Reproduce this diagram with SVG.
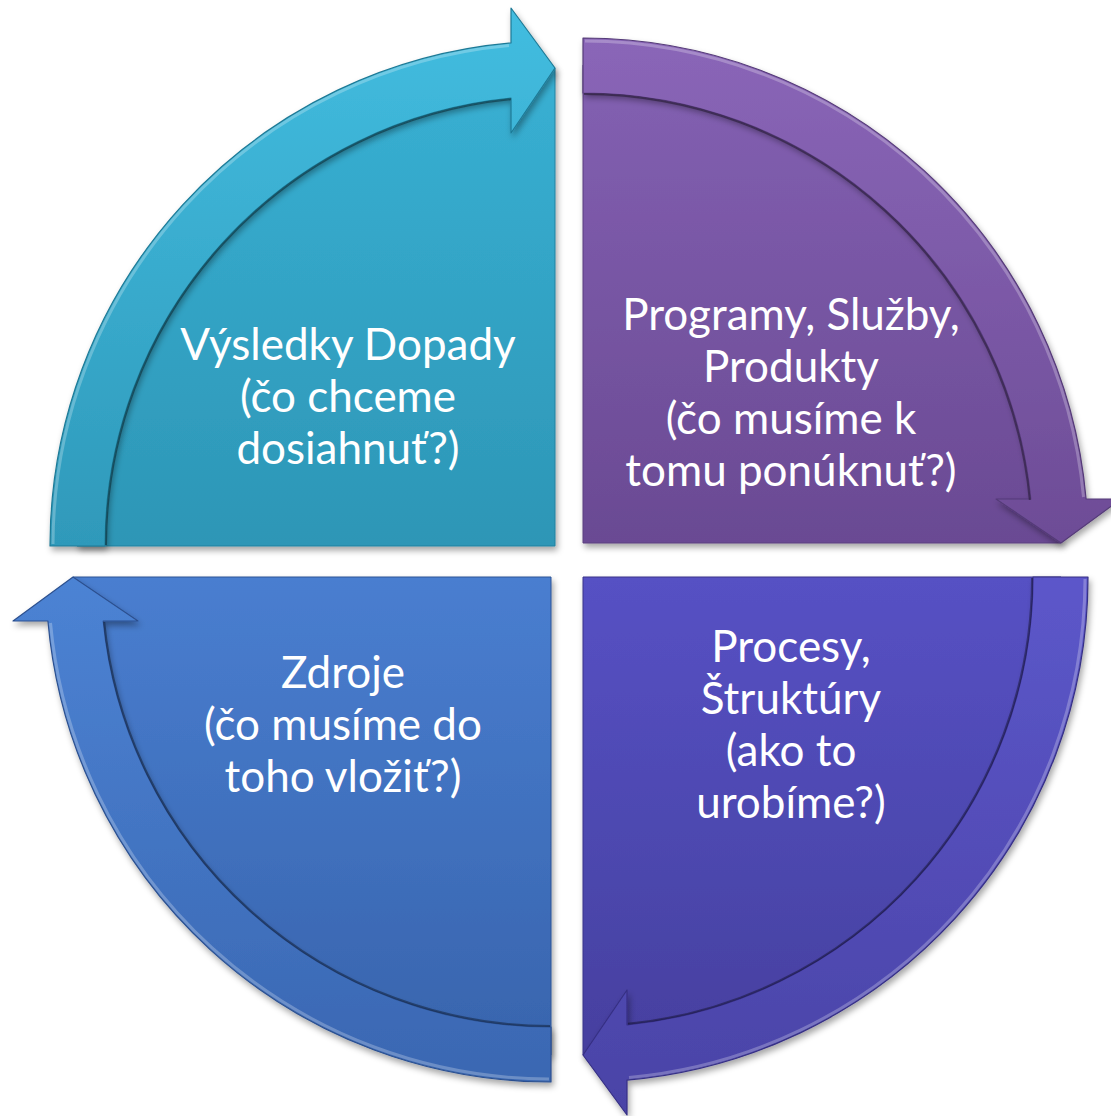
<svg xmlns="http://www.w3.org/2000/svg" width="1111" height="1116" viewBox="0 0 1111 1116">
<defs>
<filter id="sh" x="-10%" y="-10%" width="120%" height="120%">
<feDropShadow dx="2" dy="4" stdDeviation="3" flood-color="#000" flood-opacity="0.35"/>
</filter>
<linearGradient id="gTeal" x1="0" y1="0" x2="0" y2="1"><stop offset="0" stop-color="#38B0D3"/><stop offset="1" stop-color="#2D96B6"/></linearGradient>
<linearGradient id="gPurple" x1="0" y1="0" x2="0" y2="1"><stop offset="0" stop-color="#8360B2"/><stop offset="1" stop-color="#6A4A93"/></linearGradient>
<linearGradient id="gIndigo" x1="0" y1="0" x2="0" y2="1"><stop offset="0" stop-color="#5651C4"/><stop offset="1" stop-color="#46409F"/></linearGradient>
<linearGradient id="gBlue" x1="0" y1="0" x2="0" y2="1"><stop offset="0" stop-color="#497ED0"/><stop offset="1" stop-color="#3864AD"/></linearGradient>
<linearGradient id="aTeal" x1="0" y1="0" x2="0" y2="1"><stop offset="0" stop-color="#42BDE0"/><stop offset="1" stop-color="#2F99BA"/></linearGradient>
<linearGradient id="aPurple" x1="0" y1="0" x2="0" y2="1"><stop offset="0" stop-color="#8A66B8"/><stop offset="1" stop-color="#6D4C96"/></linearGradient>
<linearGradient id="aIndigo" x1="0" y1="0" x2="0" y2="1"><stop offset="0" stop-color="#5C57CA"/><stop offset="1" stop-color="#4A43A6"/></linearGradient>
<linearGradient id="aBlue" x1="0" y1="0" x2="0" y2="1"><stop offset="0" stop-color="#4C83D4"/><stop offset="1" stop-color="#3A67B2"/></linearGradient>
</defs>
<style>
.pie{filter:url(#sh);stroke-width:1;}
.arw{filter:url(#sh);stroke-width:1.2;stroke-linejoin:round;}
.edge{fill:none;stroke:#000000;stroke-opacity:0.35;stroke-width:2;}
.hl{fill:none;stroke:#FFFFFF;stroke-opacity:0.25;stroke-width:3;}
.lbl{font-family:Lato,"Liberation Sans",Arial,sans-serif;font-size:44px;fill:#FFFFFF;text-anchor:middle;}
</style>
<rect width="1111" height="1116" fill="#FFFFFF"/>
<g id="node-vysledky">
<path class="pie" d="M555,546 L77,546 A478,478 0 0 1 555,68 Z" fill="url(#gTeal)" stroke="#24819F"/>
<text class="lbl" x="348" y="360">Výsledky Dopady</text>
<text class="lbl" x="348" y="412">(čo chceme</text>
<text class="lbl" x="348" y="464">dosiahnuť?)</text>
</g>
<g id="node-programy">
<path class="pie" d="M583,543 L583,65 A478,478 0 0 1 1061,543 Z" fill="url(#gPurple)" stroke="#5A3F7E"/>
<text class="lbl" x="791" y="330">Programy, Služby,</text>
<text class="lbl" x="791" y="382">Produkty</text>
<text class="lbl" x="791" y="434">(čo musíme k</text>
<text class="lbl" x="791" y="486">tomu ponúknuť?)</text>
</g>
<g id="node-procesy">
<path class="pie" d="M583,577 L1061,577 A478,478 0 0 1 583,1055 Z" fill="url(#gIndigo)" stroke="#3A3488"/>
<text class="lbl" x="791" y="662">Procesy,</text>
<text class="lbl" x="791" y="714">Štruktúry</text>
<text class="lbl" x="791" y="766">(ako to</text>
<text class="lbl" x="791" y="818">urobíme?)</text>
</g>
<g id="node-zdroje">
<path class="pie" d="M551,577 L551,1055 A478,478 0 0 1 73,577 Z" fill="url(#gBlue)" stroke="#2F5595"/>
<text class="lbl" x="343" y="688">Zdroje</text>
<text class="lbl" x="343" y="740">(čo musíme do</text>
<text class="lbl" x="343" y="792">toho vložiť?)</text>
</g>
<g id="connectors">
<path class="arw" d="M50,546 A505,505 0 0 1 511,42.9 L511,8 L555,68 L511,133 L511,98.2 A450,450 0 0 0 105,546 Z" fill="url(#aTeal)" stroke="#1F7A96"/>
<path class="edge" d="M106,545 A449,449 0 0 1 511,99.2"/>
<path class="hl" d="M53,544 A502,502 0 0 1 509,45.5"/>
<path class="arw" d="M583,38 A505,505 0 0 1 1086.1,499 L1121,499 L1061,543 L996,499 L1030.8,499 A450,450 0 0 0 583,93 Z" fill="url(#aPurple)" stroke="#553B78"/>
<path class="edge" d="M584,94 A449,449 0 0 1 1029.8,500"/>
<path class="hl" d="M585,41 A502,502 0 0 1 1083.5,497"/>
<path class="arw" d="M1088,577 A505,505 0 0 1 627,1080.1 L627,1115 L583,1055 L627,990 L627,1024.8 A450,450 0 0 0 1033,577 Z" fill="url(#aIndigo)" stroke="#363084"/>
<path class="edge" d="M1032,578 A449,449 0 0 1 628,1023.8"/>
<path class="hl" d="M1085,579 A502,502 0 0 1 629,1077.5"/>
<path class="arw" d="M551,1082 A505,505 0 0 1 47.9,621 L13,621 L73,577 L138,621 L103.2,621 A450,450 0 0 0 551,1027 Z" fill="url(#aBlue)" stroke="#2C508F"/>
<path class="edge" d="M550,1026 A449,449 0 0 1 104.2,622"/>
<path class="hl" d="M549,1079 A502,502 0 0 1 50.5,623"/>
</g>
</svg>
